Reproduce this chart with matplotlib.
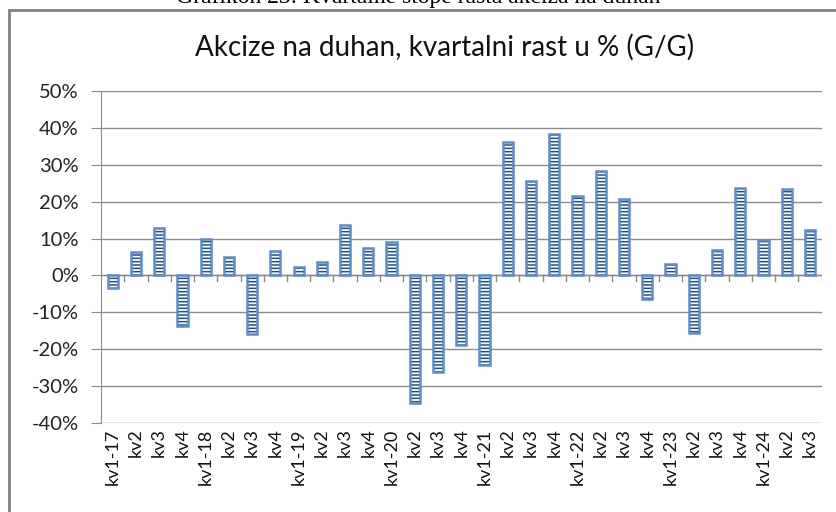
import matplotlib.pyplot as plt
from matplotlib.patches import Rectangle
from matplotlib.ticker import PercentFormatter

# podaci (ocitano s grafikona)
kvartali = ["kv1-17", "kv2", "kv3", "kv4",
            "kv1-18", "kv2", "kv3", "kv4",
            "kv1-19", "kv2", "kv3", "kv4",
            "kv1-20", "kv2", "kv3", "kv4",
            "kv1-21", "kv2", "kv3", "kv4",
            "kv1-22", "kv2", "kv3", "kv4",
            "kv1-23", "kv2", "kv3", "kv4",
            "kv1-24", "kv2", "kv3"]
rast = [-3.4, 6.3, 12.9, -13.8,
        9.8, 4.9, -16.0, 6.7,
        2.4, 3.6, 13.8, 7.4,
        9.1, -34.6, -26.1, -18.8,
        -24.3, 36.2, 25.5, 38.4,
        21.5, 28.3, 20.8, -6.4,
        3.1, -15.7, 7.0, 23.6,
        9.7, 23.4, 12.2]
y_ticks = [-40, -30, -20, -10, 0, 10, 20, 30, 40, 50]

plt.rcParams['font.family'] = ['Lato', 'DejaVu Sans']
plt.rcParams['axes.unicode_minus'] = False
plt.rcParams['hatch.linewidth'] = 1.1

fig = plt.figure(figsize=(8.37, 5.12), dpi=100)
ax = fig.add_axes([0.1207, 0.174, 0.861, 0.648])

x = range(len(rast))
ax.bar(x, rast, width=0.44, color="white", edgecolor="#1f4f8a",
       hatch="-----", linewidth=0, zorder=3)
ax.bar(x, rast, width=0.44, color="none", edgecolor="#5b8ccb",
       linewidth=1.8, zorder=4)

ax.set_xlim(-0.5, len(rast) - 0.5)
ax.set_ylim(-40, 50)
ax.set_yticks(y_ticks)
ax.yaxis.set_major_formatter(PercentFormatter(decimals=0))
ax.grid(axis="y", color="#8c8c8c", linewidth=1.0, zorder=0)
ax.tick_params(axis="y", length=7, color="#8c8c8c", labelsize=14.5,
               pad=9, labelcolor="#222222")

# kategorije ispod osi, kvacice na nultoj liniji
ax.set_xticks([])
for i in range(len(rast)):
    ax.plot([i + 0.5, i + 0.5], [0, -1.4], color="#8c8c8c", lw=1.0, zorder=2)
    ax.text(i, -41.5, kvartali[i], rotation=90, ha="center", va="top",
            fontsize=13, color="#111111")
ax.axhline(0, color="#8c8c8c", lw=1.0, zorder=2)

for side in ["top", "right", "bottom"]:
    ax.spines[side].set_visible(False)
ax.spines["left"].set_color("#8c8c8c")

fig.text(0.531, 0.908, "Akcize na duhan, kvartalni rast u % (G/G)",
         ha="center", va="center", fontsize=20, color="#111111")

# okvir grafikona i odrezani naslov iznad
fig.patches.append(Rectangle((0.0105, -0.05), 1.2, 1.0305,
                             transform=fig.transFigure, fill=False,
                             edgecolor="#808080", linewidth=2.0))
fig.text(0.5, 0.995, "Grafikon 23: Kvartalne stope rasta akciza na duhan",
         ha="center", va="baseline", fontsize=17,
         family="Liberation Serif", color="black")

fig.savefig("out.png", dpi=100)
